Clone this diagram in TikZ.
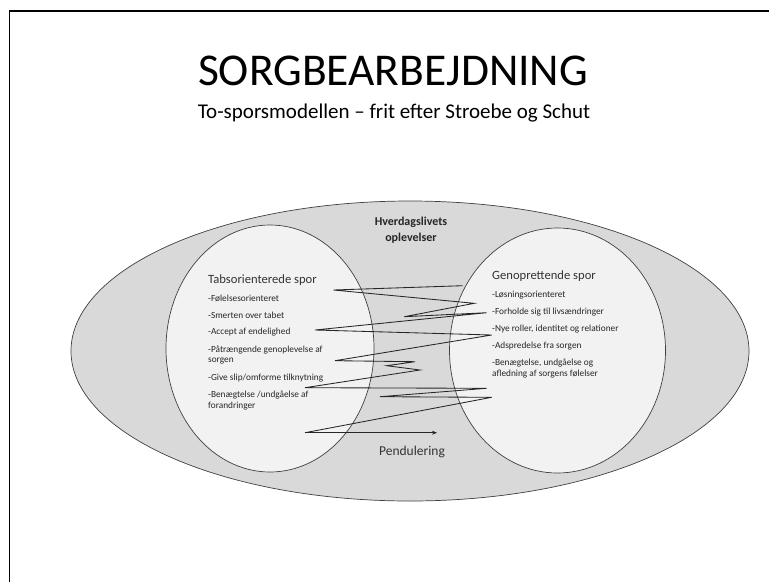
\documentclass[tikz,border=0pt]{standalone}
\usepackage{fontspec}
\setmainfont{Carlito}
\usetikzlibrary{arrows.meta}
\definecolor{outerfill}{HTML}{D9D9D9}
\definecolor{innerfill}{HTML}{F2F2F2}
\definecolor{edge}{HTML}{404040}
\tikzset{
  item/.style={anchor=west, inner sep=0pt, font=\fontsize{9.3}{10.8}\selectfont, text=black!85, align=left},
  head/.style={anchor=west, inner sep=0pt, font=\fontsize{12.6}{15}\selectfont, text=black!80},
  zig/.style={draw=black!85, line width=0.85pt}
}
\begin{document}
\begin{tikzpicture}[x=1pt,y=-1pt]
\useasboundingbox (0,0) rectangle (769,582);
\fill[white] (0,0) rectangle (769,582);
% frame (left and top)
\draw[line width=1.5pt, black] (9.5,582) -- (9.5,11) -- (769,11);
% titles
\node[inner sep=0pt, font=\fontsize{45.5}{50}\selectfont] (title) at (393,71) {SORGBEARBEJDNING};
\node[inner sep=0pt, font=\fontsize{21}{24}\selectfont] (sub) at (394,113.5) {To-sporsmodellen -- frit efter Stroebe og Schut};
% ellipses
\draw[edge, fill=outerfill, line width=0.7pt] (410,351) ellipse [x radius=339, y radius=150];
\draw[edge, fill=innerfill, line width=0.7pt] (270,348.5) ellipse [x radius=104, y radius=123.5];
\draw[edge, fill=innerfill, line width=0.7pt] (557.5,350.5) ellipse [x radius=108, y radius=122.5];
\node[inner sep=0pt, align=center, font=\bfseries\fontsize{12}{15.5}\selectfont, text=black!85] (hv) at (411,230) {Hverdagslivets\\oplevelser};
% left texts
\node[head] (lh) at (208,280) {Tabsorienterede spor};
\node[item] (l1) at (208,298) {-Følelsesorienteret};
\node[item] (l2) at (208,315.5) {-Smerten over tabet};
\node[item] (l3) at (208,332.5) {-Accept af endelighed};
\node[item] (l4) at (208,355) {-Påtrængende genoplevelse af\\sorgen};
\node[item] (l5) at (208,378) {-Give slip/omforme tilknytning};
\node[item] (l6) at (208,400.5) {-Benægtelse /undgåelse af\\forandringer};
% right texts
\node[head] (rh) at (492,276.5) {Genoprettende spor};
\node[item] (r1) at (492,295) {-Løsningsorienteret};
\node[item] (r2) at (492,312) {-Forholde sig til livsændringer};
\node[item] (r3) at (492,329) {-Nye roller, identitet og relationer};
\node[item] (r4) at (492,346) {-Adspredelse fra sorgen};
\node[item] (r5) at (492,368.5) {-Benægtelse, undgåelse og\\afledning af sorgens følelser};
\node[inner sep=0pt, font=\fontsize{13.5}{15}\selectfont, text=black!80] (pend) at (412,452) {Pendulering};
% zigzag
\coordinate (z1) at (462.7,285.7);
\coordinate (z2) at (333.3,290);
\coordinate (z3) at (474.3,303.3);
\coordinate (z4) at (404.3,316.7);
\coordinate (z5) at (486.7,312.7);
\coordinate (z6) at (315,330);
\coordinate (z7) at (491.7,335);
\coordinate (z8) at (335,360.7);
\coordinate (z9) at (415,361.7);
\coordinate (z10) at (386.7,365.7);
\coordinate (z11) at (420,370);
\coordinate (z12) at (305,387.7);
\coordinate (z13) at (486.7,388.3);
\coordinate (z14) at (380,396.7);
\coordinate (z15) at (491.7,397.3);
\coordinate (z16) at (305,432.7);
\coordinate (z17) at (437,432.7);
\draw[zig, line join=miter] (z1) -- (z2) -- (z3) -- (z4) -- (z5) -- (z6) -- (z7) -- (z8) -- (z9) -- (z10) -- (z11) -- (z12) -- (z13) -- (z14) -- (z15) -- (z16);
\draw[zig, -{Stealth[length=5pt,width=4pt]}] (z16) -- (z17);
\end{tikzpicture}
\end{document}
